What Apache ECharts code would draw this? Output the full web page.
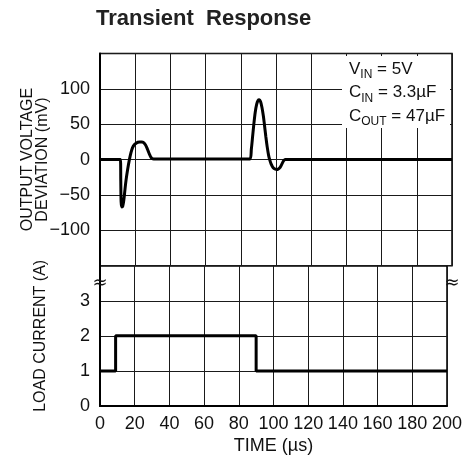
<!DOCTYPE html>
<html>
<head>
<meta charset="utf-8">
<script src="https://cdn.jsdelivr.net/npm/echarts@6/dist/echarts.min.js"></script>
<style>
html,body{margin:0;padding:0;background:#fff;}
#c{width:465px;height:464px;}
</style>
</head>
<body>
<div id="c"></div>
<script>
// ---- data ----
var titleText = 'Transient  Response';
var timeTicks = [0, 20, 40, 60, 80, 100, 120, 140, 160, 180, 200];
var voltTicks = [-100, -50, 0, 50, 100];
var currTicks = [0, 1, 2, 3];

var timeV = [0, 11.6, 11.8, 12.0, 12.4, 12.9, 13.5, 14.2, 14.8, 15.7, 16.7, 17.6, 18.5, 19.5, 20.5, 21.5, 22.6, 23.7, 24.8, 25.8, 26.6, 27.4, 28.2, 28.9, 29.6, 30.5,
             85.2, 86.0, 86.8, 87.4, 88.2, 89.0, 89.8, 90.5, 91.2, 92.0, 92.8, 93.4, 94.2, 95.0, 95.8, 96.4, 97.2, 98.0, 98.8, 99.6, 100.4, 101.2, 102.0, 102.8, 103.6, 104.4, 105.2, 200];
var devMV = [0, 0, -30, -60, -67, -66, -58, -42, -29, -14, 0, 10, 17, 21, 23, 24.5, 25, 25, 24, 21, 17, 12, 7, 3.5, 1.5, 1,
             1, 15, 35, 50, 67, 78, 83.5, 84.5, 82, 74, 62, 50, 33, 18, 6, 0, -6, -10, -12.5, -13.5, -14, -13.5, -12, -9, -5, -1.5, 0, 0];

var timeI = [0, 9, 9, 90, 90, 200];
var loadA = [1, 1, 2, 2, 1, 1];

var FONT = '"Liberation Sans Narrow", "Arial Narrow", "Liberation Sans", sans-serif';

function pairs(xs, ys) { return xs.map(function (x, i) { return [x, ys[i]]; }); }
function fmt(list) {
  return function (v) { return list.indexOf(v) >= 0 ? String(v).replace('-', '\u2212') : ''; };
}

var chart = echarts.init(document.getElementById('c'), null, { renderer: 'canvas' });
var gridLine = { show: true, lineStyle: { color: '#1a1a1a', width: 1 } };
var axisLineS = { show: true, lineStyle: { color: '#000', width: 2 } };
var labelS = { color: '#111', fontSize: 18, fontFamily: FONT };

chart.setOption({
  animation: false,
  backgroundColor: '#fff',
  title: {
    text: titleText, left: 96, top: 8, padding: 0,
    textStyle: { fontFamily: FONT, fontWeight: 'bold', fontSize: 22, color: '#222' }
  },
  grid: [
    { left: 100, right: 13, top: 53.5, height: 212.2, show: true, borderColor: '#000', borderWidth: 1.5 },
    { left: 100, right: 13, top: 265.7, height: 140.3, show: true, borderColor: '#000', borderWidth: 1.5 }
  ],
  xAxis: [
    { gridIndex: 0, type: 'value', min: 0, max: 200, interval: 20,
      axisLabel: { show: false }, axisTick: { show: false }, axisLine: { show: false }, splitLine: gridLine },
    { gridIndex: 1, type: 'value', min: 0, max: 200, interval: 20,
      axisLabel: Object.assign({ margin: 9, formatter: fmt(timeTicks) }, labelS),
      axisTick: { show: false }, axisLine: axisLineS, splitLine: gridLine,
      name: 'TIME (\u00b5s)', nameLocation: 'middle', nameGap: 31, nameMoveOverlap: false,
      nameTextStyle: { fontFamily: FONT, fontSize: 18, color: '#111' } }
  ],
  yAxis: [
    { gridIndex: 0, type: 'value', min: -150, max: 150, interval: 50,
      axisLabel: Object.assign({ margin: 10, formatter: fmt(voltTicks) }, labelS),
      axisTick: { show: false }, axisLine: axisLineS, splitLine: gridLine,
      name: 'OUTPUT VOLTAGE\nDEVIATION (mV)', nameLocation: 'middle', nameGap: 50, nameMoveOverlap: false,
      nameTextStyle: { fontFamily: FONT, fontSize: 16, lineHeight: 15, color: '#111' } },
    { gridIndex: 1, type: 'value', min: 0, max: 4, interval: 1,
      axisLabel: Object.assign({ margin: 10, formatter: fmt(currTicks) }, labelS),
      axisTick: { show: false }, axisLine: axisLineS, splitLine: gridLine,
      name: 'LOAD CURRENT (A)', nameLocation: 'middle', nameGap: 51, nameMoveOverlap: false,
      nameTextStyle: { fontFamily: FONT, fontSize: 16, color: '#111' } }
  ],
  series: [
    { type: 'line', xAxisIndex: 0, yAxisIndex: 0, data: pairs(timeV, devMV), smooth: 0.3,
      symbol: 'none', lineStyle: { color: '#000', width: 3 } },
    { type: 'line', xAxisIndex: 1, yAxisIndex: 1, data: pairs(timeI, loadA),
      symbol: 'none', lineStyle: { color: '#000', width: 3 } }
  ],
  graphic: [
    { type: 'rect', left: 342, top: 56, shape: { width: 108, height: 72 }, style: { fill: '#fff' }, z: 10 },
    { type: 'text', left: 349, top: 61, z: 11,
      style: {
        text: '{m|V}{s|IN}{m| = 5V}\n{m|C}{s|IN}{m| = 3.3\u00b5F}\n{m|C}{s|OUT}{m| = 47\u00b5F}',
        fill: '#111', fontFamily: FONT,
        rich: {
          m: { fontSize: 17, fontFamily: FONT, lineHeight: 23.3, verticalAlign: 'middle' },
          s: { fontSize: 12, fontFamily: FONT, lineHeight: 6, verticalAlign: 'bottom' }
        }
      } },
    { type: 'text', x: 100, y: 283, z: 12,
      style: { text: '\u2248', fontSize: 18, fontFamily: 'DejaVu Sans', fill: '#111', align: 'center', verticalAlign: 'middle' } },
    { type: 'text', x: 452, y: 283, z: 12,
      style: { text: '\u2248', fontSize: 18, fontFamily: 'DejaVu Sans', fill: '#111', align: 'center', verticalAlign: 'middle' } }
  ]
});
</script>
</body>
</html>
